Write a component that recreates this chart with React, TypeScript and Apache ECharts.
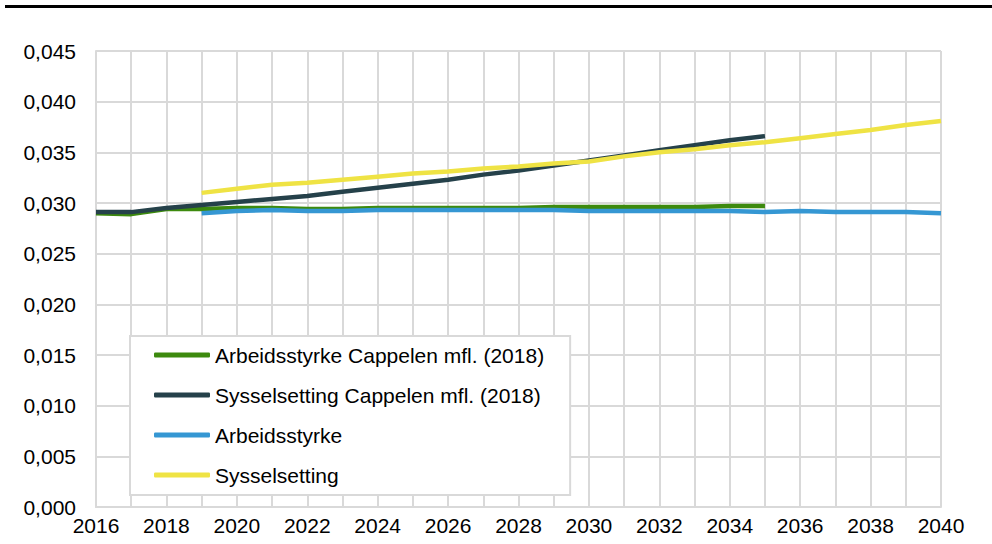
import React, { useEffect, useRef } from "react";
import * as echarts from "echarts";

const years = [2016, 2017, 2018, 2019, 2020, 2021, 2022, 2023, 2024, 2025, 2026, 2027, 2028, 2029, 2030, 2031, 2032, 2033, 2034, 2035, 2036, 2037, 2038, 2039, 2040];

// 2016-2035
const arbCappelen = [0.0290, 0.0289, 0.0294, 0.0294, 0.0295, 0.0295, 0.0294, 0.0294, 0.0295, 0.0295, 0.0295, 0.0295, 0.0295, 0.0296, 0.0296, 0.0296, 0.0296, 0.0296, 0.0297, 0.0297];
// 2016-2035
const sysCappelen = [0.0291, 0.0291, 0.0295, 0.0298, 0.0301, 0.0304, 0.0307, 0.0311, 0.0315, 0.0319, 0.0323, 0.0328, 0.0332, 0.0337, 0.0342, 0.0347, 0.0352, 0.0357, 0.0362, 0.0366];
// 2019-2040
const arbeidsstyrke = [0.0290, 0.0292, 0.0293, 0.0292, 0.0292, 0.0293, 0.0293, 0.0293, 0.0293, 0.0293, 0.0293, 0.0292, 0.0292, 0.0292, 0.0292, 0.0292, 0.0291, 0.0292, 0.0291, 0.0291, 0.0291, 0.0290];
// 2019-2040
const sysselsetting = [0.0310, 0.0314, 0.0318, 0.0320, 0.0323, 0.0326, 0.0329, 0.0331, 0.0334, 0.0336, 0.0339, 0.0341, 0.0346, 0.0350, 0.0353, 0.0357, 0.0360, 0.0364, 0.0368, 0.0372, 0.0377, 0.0381];

const seriesNames = [
  "Arbeidsstyrke Cappelen mfl. (2018)",
  "Sysselsetting Cappelen mfl. (2018)",
  "Arbeidsstyrke",
  "Sysselsetting",
];
const seriesColors = ["#3d8a0e", "#25414a", "#3597d3", "#efe344"];

function pairs(startYear: number, vals: number[]) {
  const i0 = years.indexOf(startYear);
  return vals.map((v, i) => [years[i0 + i], v]);
}

export default function App() {
  const ref = useRef<HTMLDivElement>(null);
  useEffect(() => {
    if (!ref.current) return;
    const chart = echarts.init(ref.current, null, { renderer: "svg" });
    const font = "Liberation Sans, Arial, sans-serif";
    const grid = "#d9d9d9";
    const dataSets = [
      pairs(2016, arbCappelen),
      pairs(2016, sysCappelen),
      pairs(2019, arbeidsstyrke),
      pairs(2019, sysselsetting),
    ];
    chart.setOption({
      animation: false,
      backgroundColor: "#ffffff",
      textStyle: { fontFamily: font },
      graphic: [
        {
          type: "rect",
          shape: { x: 5, y: 5, width: 987, height: 3 },
          style: { fill: "#000000" },
        },
      ],
      grid: { left: 96, right: 51, top: 51, bottom: 37, containLabel: false },
      xAxis: {
        type: "value",
        min: 2016,
        max: 2040,
        interval: 1,
        axisLine: { show: true, lineStyle: { color: grid, width: 2 } },
        axisTick: { show: false },
        splitLine: { show: true, lineStyle: { color: grid, width: 2 } },
        axisLabel: {
          color: "#000",
          fontSize: 21,
          fontFamily: font,
          margin: 8,
          formatter: (v: number) => (v % 2 === 0 ? String(v) : ""),
          showMinLabel: true,
          showMaxLabel: true,
        },
      },
      yAxis: {
        type: "value",
        min: 0,
        max: 0.045,
        interval: 0.005,
        axisLine: { show: true, lineStyle: { color: grid, width: 2 } },
        axisTick: { show: false },
        splitLine: { show: true, lineStyle: { color: grid, width: 2 } },
        axisLabel: {
          color: "#000",
          fontSize: 21,
          fontFamily: font,
          margin: 20,
          formatter: (v: number) => v.toFixed(3).replace(".", ","),
        },
      },
      legend: {
        orient: "vertical",
        left: 130,
        top: 336,
        width: 442,
        backgroundColor: "#ffffff",
        borderColor: grid,
        borderWidth: 2,
        padding: [7, 26, 8, 24],
        itemWidth: 56,
        itemHeight: 5,
        itemGap: 16,
        icon: "roundRect",
        textStyle: { color: "#000", fontSize: 21, fontFamily: font, lineHeight: 24 },
        data: seriesNames,
      },
      series: seriesNames.map((name, i) => ({
        name,
        type: "line",
        data: dataSets[i],
        symbol: "none",
        color: seriesColors[i],
        lineStyle: { color: seriesColors[i], width: 4.5 },
        z: 2 + i,
      })),
    });
    return () => chart.dispose();
  }, []);
  return (
    <div
      ref={ref}
      style={{ position: "fixed", left: 0, top: 0, width: 992, height: 544 }}
    />
  );
}
